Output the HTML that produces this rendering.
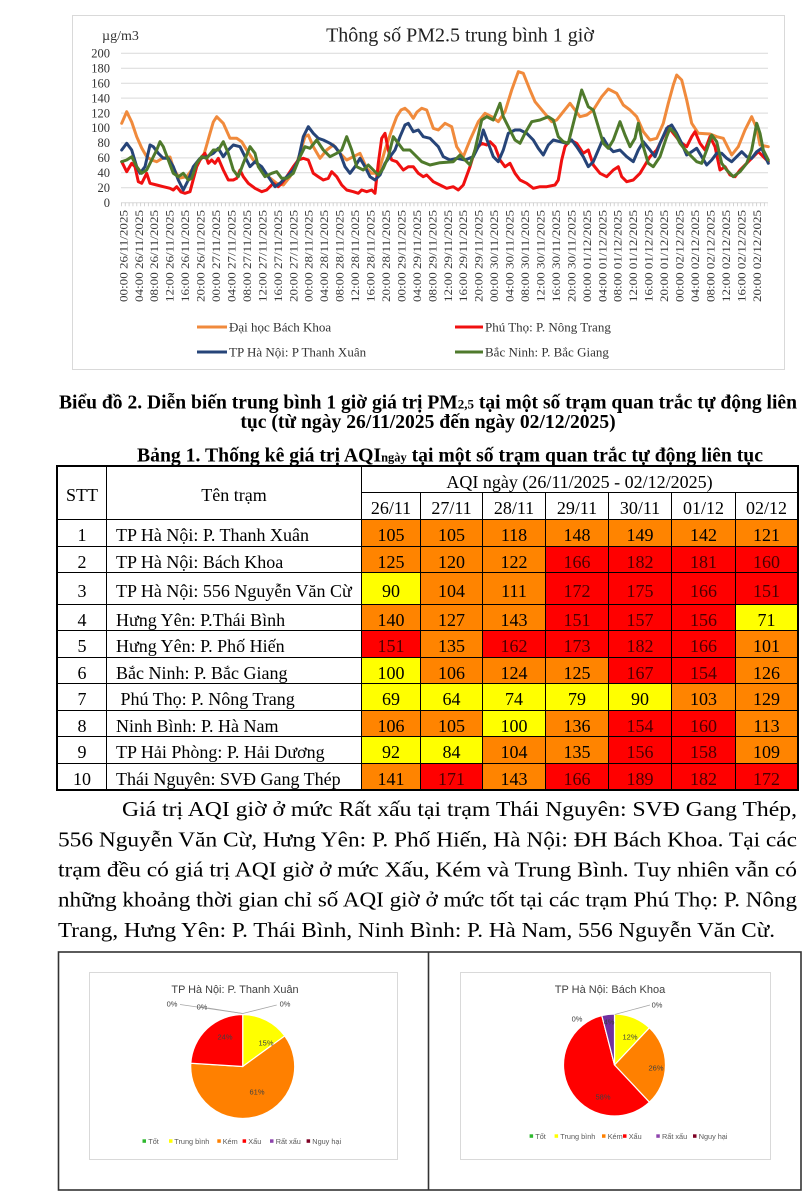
<!DOCTYPE html>
<html><head><meta charset="utf-8">
<style>
html,body{margin:0;padding:0;background:#fff;}
body{width:810px;height:1200px;position:relative;overflow:hidden;font-family:"Liberation Serif","Noto Serif CJK SC",serif;}
svg{position:absolute;left:0;top:0;}
.tbl{position:absolute;left:56px;top:465px;border:1px solid #000;padding:1px;background:#000;display:grid;gap:1px;
grid-template-columns:48px 254px 58px 61px 62px 62px 62px 63px 61px;
grid-template-rows:25px 26px 26px 25px 31px 25px 26px 25px 26px 25px 26px 25px;}
.tbl div{background:#fff;display:flex;align-items:center;justify-content:center;font-size:18px;color:#000;padding-top:5px;box-sizing:border-box;white-space:nowrap;}
.tbl div.n{justify-content:flex-start;padding-left:9px;}
.tbl div.O{background:#ff8400;}
.tbl div.R{background:#ff0000;color:#4a0000;}
.tbl div.Y{background:#ffff00;}
</style></head><body>
<svg width="810" height="1200" viewBox="0 0 810 1200" xmlns="http://www.w3.org/2000/svg" font-family="Liberation Serif, serif">
<!-- line chart frame -->
<rect x="72.5" y="15.5" width="712" height="354" fill="#fff" stroke="#d9d9d9" stroke-width="1"/>
<text x="460" y="41.5" text-anchor="middle" font-size="20" fill="#222">Thông số PM2.5 trung bình 1 giờ</text>
<text x="102" y="40" font-size="14" fill="#333">µg/m3</text>
<g stroke="#d9d9d9" stroke-width="1">
<line x1="121" x2="768" y1="53.3" y2="53.3"/><line x1="121" x2="768" y1="68.2" y2="68.2"/><line x1="121" x2="768" y1="83.2" y2="83.2"/><line x1="121" x2="768" y1="98.1" y2="98.1"/><line x1="121" x2="768" y1="113.1" y2="113.1"/><line x1="121" x2="768" y1="128" y2="128"/><line x1="121" x2="768" y1="142.9" y2="142.9"/><line x1="121" x2="768" y1="157.9" y2="157.9"/><line x1="121" x2="768" y1="172.8" y2="172.8"/><line x1="121" x2="768" y1="187.8" y2="187.8"/><line x1="121" x2="768" y1="202.7" y2="202.7"/>
</g>
<line x1="121" x2="768" y1="204.5" y2="204.5" stroke="#c8c8c8" stroke-width="3.5" stroke-dasharray="0.8 3.05"/>
<g font-size="12.5" fill="#333" text-anchor="end">
<text x="110" y="57.5">200</text><text x="110" y="72.4">180</text><text x="110" y="87.4">160</text><text x="110" y="102.3">140</text><text x="110" y="117.3">120</text><text x="110" y="132.2">100</text><text x="110" y="147.1">80</text><text x="110" y="162.1">60</text><text x="110" y="177">40</text><text x="110" y="192">20</text><text x="110" y="206.9">0</text>
</g>
<g fill="none" stroke-width="3" stroke-linejoin="round" stroke-linecap="round">
<polyline stroke="#f08a3c" points="121.7,123.3 126.7,111.7 131.7,122 136.7,136.7 141.7,148 146.7,156.7 151.7,160 156.7,161.7 163,158 170,157 173,166.7 176.7,174 180,178 186.7,176.7 191.7,170 196.7,163.3 203.3,156.7 206.7,145 210,133.3 213.3,122 216.7,116.7 223.3,123.3 230,138.3 236.7,138.3 241.7,141.7 246.7,150 253.3,160 260,166.7 268.3,176.7 276.7,183.3 283.3,185 290,176.7 296.7,163.3 301,150 305,136.7 308.3,135 313.3,146.7 320,158.3 326.7,150 333.3,145 340,153.3 346.7,160 353.3,156.7 360,153.3 366.7,168.3 371.7,173.3 378.3,173.3 385,150 391.7,130 396.7,116.7 401,110 405,108.3 409,112 413.3,118.3 417,112 421.7,108.3 426.7,110 433.3,128.3 438.3,130 445,123.3 451.7,126.7 456.7,146.7 463.3,156.7 470,140 478.3,121.7 485,113.3 491.7,116.7 498.3,121.7 505,111.7 511.7,90 518.3,71.7 523.3,73.3 530,90 535,101.7 543.3,111.7 551.7,121.7 556.7,120 563.3,111.7 570,103.3 575,110 580,116.7 586.7,115 593.3,110 601.7,96.7 608.3,89 616.7,93.3 623.3,105 630,110 636.7,116.7 643.3,131.7 650,140 656.7,138.3 663.3,123.3 668.3,103.3 673.3,85 676.7,75 681.7,80 686.7,100 691.7,123.3 698.3,133.3 710,134 716.7,136.7 723.3,138.3 731.7,155 738.3,146.7 745,130 751.7,116.7 756.7,128.3 760,145 768.3,146.7"/>
<polyline stroke="#f01010" points="121.7,161.7 126.7,171.7 131.7,163.3 135,166.7 138.3,181.7 141.7,183.3 146.7,173.3 150,183.3 156.7,185 163.3,186.7 170,188.3 173.3,190 176.7,186.7 181,192 185,193.3 190,191.7 196.7,166.7 201.7,156.7 205,153.3 208.3,163.3 211.7,160 215,163.3 218.3,158.3 223.3,170 228.3,180 233.3,180 236.7,178.3 240,170 243.3,176.7 248.3,183.3 255,188.3 261.7,191.7 266.7,190 273.3,183.3 278.3,186.7 281.7,183.3 286.7,176.7 293.3,166.7 298.3,160 303.3,158.3 308.3,160 313.3,173.3 318.3,176.7 323.3,180 328.3,178.3 331.7,171.7 336.7,176.7 341.7,185 346.7,190 353.3,191.7 358.3,193.3 361.7,190 366.7,191.7 371.7,190 375,193.3 378.3,163.3 381.7,138.3 385,133.3 388.3,150 391.7,160 396.7,161.7 403.3,170 408.3,166.7 413.3,166.7 418.3,173.3 423.3,176.7 426.7,175 433.3,181.7 440,185 446.7,188.3 453.3,186.7 458.3,190 463.3,185 470,166.7 475,150 481.7,143.3 486.7,145 490,141.7 495,146.7 500,160 505,166.7 510,163.3 515,173.3 520,180 526.7,183.3 533.3,188.3 540,186.7 546.7,186.7 555,185 558.3,180 561.7,160 565,146.7 570,140 576.7,143.3 583.3,153.3 588.3,150 593.3,165 600,173.3 606.7,176.7 613.3,170 618.3,166.7 621.7,176.7 626.7,181.7 633.3,180 640,173.3 645,165 650,156.7 656.7,150 663.3,136.7 668.3,126.7 673.3,133.3 680,141.7 686.7,146.7 691.7,136.7 695,131.7 700,143.3 705,150 710,136.7 715,146.7 720,170 725,166.7 730,175 735,176.7 740,170 746.7,163.3 753.3,156.7 758.3,151.7 763.3,156.7 768.3,161.7"/>
<polyline stroke="#264478" points="121.7,150 126.7,143.3 131.7,150 136.7,166.7 140,173.3 145,166.7 150,145 153.3,146.7 158.3,153.3 163.3,158.3 168.3,158.3 173.3,166.7 178.3,180 183.3,190 188.3,180 193.3,166.7 200,158.3 206.7,156.7 213.3,153.3 218.3,148.3 223.3,156.7 228.3,150 233.3,145 240,146.7 245,156.7 250,166.7 255,161.7 261.7,166.7 268.3,176.7 275,186.7 280,183.3 286.7,176.7 293.3,170 298.3,160 303.3,136.7 308.3,126.7 313.3,133.3 318.3,138.3 323.3,140 330,143.3 335,146.7 340,153.3 345,166.7 350,173.3 355,166.7 360,158.3 365,166.7 370,176.7 375,180 380,175 385,163.3 390,156.7 395,150 400,136.7 405,125 408.3,123.3 413.3,131.7 418.3,130 423.3,136.7 430,138.3 438.3,146.7 443.3,156.7 450,160 456.7,158.3 465,160 473.3,156.7 480,143.3 483.3,130 488.3,143.3 493.3,156.7 498.3,161.7 503.3,150 508.3,133.3 515,130 520,130 526.7,133.3 533.3,140 538.3,148.3 543.3,155 548.3,145 553.3,140 560,141.7 566.7,143.3 571.7,140 576.7,146.7 583.3,156.7 588.3,166.7 593.3,161.7 598.3,150 603.3,138.3 608.3,146.7 613.3,151.7 620,150 626.7,156.7 633.3,161.7 638.3,150 643.3,141.7 650,150 655,156.7 660,143.3 666.7,128.3 671.7,125 676.7,133.3 681.7,143.3 686.7,155 691.7,151.7 696.7,148.3 701.7,156.7 706.7,165 711.7,160 716.7,153.3 721.7,153.3 726.7,158.3 731.7,161.7 736.7,156.7 741.7,151.7 746.7,156.7 751.7,158.3 756.7,151.7 761.7,148.3 768.3,163.3"/>
<polyline stroke="#4f7a2c" points="121.7,161.7 126.7,160 131.7,156.7 136.7,166.7 141.7,173.3 146.7,170 151.7,160 156.7,150 160,141.7 163.3,146.7 168.3,160 173.3,173.3 178.3,176.7 183.3,173.3 188.3,180 191.7,178.3 196.7,163.3 201.7,156.7 206.7,158.3 213.3,150 218.3,150 223.3,141.7 228.3,153.3 233.3,170 238.3,176.7 243.3,163.3 250,146.7 255,153.3 258.3,166.7 265,176.7 271.7,173.3 276.7,171.7 281.7,178.3 286.7,178.3 293.3,173.3 300,156.7 305,146.7 310,148.3 316.7,140 323.3,150 330,156.7 336.7,153.3 341.7,150 346.7,136.7 351.7,150 356.7,166.7 363.3,170 368.3,165 373.3,170 378.3,175 383.3,168.3 388.3,156.7 393.3,136.7 398.3,143.3 403.3,150 410,150 415,155 421.7,161.7 430,165 440,162.7 453.3,161.7 460,155 465,160 470,165 475,150 481.7,120 486.7,116.7 493.3,120 500,103.3 503.3,116.7 508.3,126.7 515,140 520,143.3 525,133.3 531.7,121.7 540,120 548.3,116.7 553.3,120 558.3,136.7 563.3,141.7 568.3,143.3 575,116.7 581.7,90 588.3,106.7 593.3,110 598.3,126.7 603.3,143.3 608.3,148.3 613.3,140 620,121.7 625,135 630,146.7 635,138.3 638.3,123.3 643.3,146.7 648.3,163.3 653.3,166.7 660,156.7 666.7,136.7 670,128.3 675,133.3 680,143.3 686.7,151.7 691.7,156.7 696.7,161.7 701.7,163.3 706.7,150 711.7,135 716.7,141.7 721.7,163.3 726.7,170 733.3,176.7 740,171.7 746.7,163.3 751.7,150 756.7,123.3 760,133.3 763.3,150 768.3,160"/>
</g>
<g font-size="12" fill="#333" text-anchor="end">
<text transform="translate(127.3,210) rotate(-90)" textLength="92" lengthAdjust="spacingAndGlyphs">00:00 26/11/2025</text>
<text transform="translate(142.75,210) rotate(-90)" textLength="92" lengthAdjust="spacingAndGlyphs">04:00 26/11/2025</text>
<text transform="translate(158.2,210) rotate(-90)" textLength="92" lengthAdjust="spacingAndGlyphs">08:00 26/11/2025</text>
<text transform="translate(173.65,210) rotate(-90)" textLength="92" lengthAdjust="spacingAndGlyphs">12:00 26/11/2025</text>
<text transform="translate(189.1,210) rotate(-90)" textLength="92" lengthAdjust="spacingAndGlyphs">16:00 26/11/2025</text>
<text transform="translate(204.55,210) rotate(-90)" textLength="92" lengthAdjust="spacingAndGlyphs">20:00 26/11/2025</text>
<text transform="translate(220,210) rotate(-90)" textLength="92" lengthAdjust="spacingAndGlyphs">00:00 27/11/2025</text>
<text transform="translate(235.45,210) rotate(-90)" textLength="92" lengthAdjust="spacingAndGlyphs">04:00 27/11/2025</text>
<text transform="translate(250.9,210) rotate(-90)" textLength="92" lengthAdjust="spacingAndGlyphs">08:00 27/11/2025</text>
<text transform="translate(266.35,210) rotate(-90)" textLength="92" lengthAdjust="spacingAndGlyphs">12:00 27/11/2025</text>
<text transform="translate(281.8,210) rotate(-90)" textLength="92" lengthAdjust="spacingAndGlyphs">16:00 27/11/2025</text>
<text transform="translate(297.25,210) rotate(-90)" textLength="92" lengthAdjust="spacingAndGlyphs">20:00 27/11/2025</text>
<text transform="translate(312.7,210) rotate(-90)" textLength="92" lengthAdjust="spacingAndGlyphs">00:00 28/11/2025</text>
<text transform="translate(328.15,210) rotate(-90)" textLength="92" lengthAdjust="spacingAndGlyphs">04:00 28/11/2025</text>
<text transform="translate(343.6,210) rotate(-90)" textLength="92" lengthAdjust="spacingAndGlyphs">08:00 28/11/2025</text>
<text transform="translate(359.05,210) rotate(-90)" textLength="92" lengthAdjust="spacingAndGlyphs">12:00 28/11/2025</text>
<text transform="translate(374.5,210) rotate(-90)" textLength="92" lengthAdjust="spacingAndGlyphs">16:00 28/11/2025</text>
<text transform="translate(389.95,210) rotate(-90)" textLength="92" lengthAdjust="spacingAndGlyphs">20:00 28/11/2025</text>
<text transform="translate(405.4,210) rotate(-90)" textLength="92" lengthAdjust="spacingAndGlyphs">00:00 29/11/2025</text>
<text transform="translate(420.85,210) rotate(-90)" textLength="92" lengthAdjust="spacingAndGlyphs">04:00 29/11/2025</text>
<text transform="translate(436.3,210) rotate(-90)" textLength="92" lengthAdjust="spacingAndGlyphs">08:00 29/11/2025</text>
<text transform="translate(451.75,210) rotate(-90)" textLength="92" lengthAdjust="spacingAndGlyphs">12:00 29/11/2025</text>
<text transform="translate(467.2,210) rotate(-90)" textLength="92" lengthAdjust="spacingAndGlyphs">16:00 29/11/2025</text>
<text transform="translate(482.65,210) rotate(-90)" textLength="92" lengthAdjust="spacingAndGlyphs">20:00 29/11/2025</text>
<text transform="translate(498.1,210) rotate(-90)" textLength="92" lengthAdjust="spacingAndGlyphs">00:00 30/11/2025</text>
<text transform="translate(513.55,210) rotate(-90)" textLength="92" lengthAdjust="spacingAndGlyphs">04:00 30/11/2025</text>
<text transform="translate(529,210) rotate(-90)" textLength="92" lengthAdjust="spacingAndGlyphs">08:00 30/11/2025</text>
<text transform="translate(544.45,210) rotate(-90)" textLength="92" lengthAdjust="spacingAndGlyphs">12:00 30/11/2025</text>
<text transform="translate(559.9,210) rotate(-90)" textLength="92" lengthAdjust="spacingAndGlyphs">16:00 30/11/2025</text>
<text transform="translate(575.35,210) rotate(-90)" textLength="92" lengthAdjust="spacingAndGlyphs">20:00 30/11/2025</text>
<text transform="translate(590.8,210) rotate(-90)" textLength="92" lengthAdjust="spacingAndGlyphs">00:00 01/12/2025</text>
<text transform="translate(606.25,210) rotate(-90)" textLength="92" lengthAdjust="spacingAndGlyphs">04:00 01/12/2025</text>
<text transform="translate(621.7,210) rotate(-90)" textLength="92" lengthAdjust="spacingAndGlyphs">08:00 01/12/2025</text>
<text transform="translate(637.15,210) rotate(-90)" textLength="92" lengthAdjust="spacingAndGlyphs">12:00 01/12/2025</text>
<text transform="translate(652.6,210) rotate(-90)" textLength="92" lengthAdjust="spacingAndGlyphs">16:00 01/12/2025</text>
<text transform="translate(668.05,210) rotate(-90)" textLength="92" lengthAdjust="spacingAndGlyphs">20:00 01/12/2025</text>
<text transform="translate(683.5,210) rotate(-90)" textLength="92" lengthAdjust="spacingAndGlyphs">00:00 02/12/2025</text>
<text transform="translate(698.95,210) rotate(-90)" textLength="92" lengthAdjust="spacingAndGlyphs">04:00 02/12/2025</text>
<text transform="translate(714.4,210) rotate(-90)" textLength="92" lengthAdjust="spacingAndGlyphs">08:00 02/12/2025</text>
<text transform="translate(729.85,210) rotate(-90)" textLength="92" lengthAdjust="spacingAndGlyphs">12:00 02/12/2025</text>
<text transform="translate(745.3,210) rotate(-90)" textLength="92" lengthAdjust="spacingAndGlyphs">16:00 02/12/2025</text>
<text transform="translate(760.75,210) rotate(-90)" textLength="92" lengthAdjust="spacingAndGlyphs">20:00 02/12/2025</text>
</g>
<!-- legend -->
<g stroke-width="3">
<line x1="197" x2="227" y1="327" y2="327" stroke="#f08a3c"/>
<line x1="455" x2="483" y1="327" y2="327" stroke="#f01010"/>
<line x1="197" x2="227" y1="352" y2="352" stroke="#264478"/>
<line x1="455" x2="483" y1="352" y2="352" stroke="#4f7a2c"/>
</g>
<g font-size="13" fill="#333">
<text x="229" y="331.5">Đại học Bách Khoa</text>
<text x="485" y="331.5">Phú Thọ: P. Nông Trang</text>
<text x="229" y="356.5">TP Hà Nội: P Thanh Xuân</text>
<text x="485" y="356.5">Bắc Ninh: P. Bắc Giang</text>
</g>
<!-- captions -->
<g font-weight="bold" fill="#000">
<text x="59" y="408.5" font-size="19.6" textLength="738" lengthAdjust="spacingAndGlyphs">Biểu đồ 2. Diễn biến trung bình 1 giờ giá trị PM<tspan font-size="13">2,5</tspan> tại một số trạm quan trắc tự động liên</text>
<text x="428" y="428" font-size="19.6" text-anchor="middle">tục (từ ngày 26/11/2025 đến ngày 02/12/2025)</text>
<text x="137" y="461.5" font-size="19.8" textLength="626" lengthAdjust="spacingAndGlyphs">Bảng 1. Thống kê giá trị AQI<tspan font-size="12.5">ngày</tspan> tại một số trạm quan trắc tự động liên tục</text>
</g>
<!-- paragraph -->
<g font-size="21.5" fill="#000">
<text x="122" y="816" textLength="675" lengthAdjust="spacingAndGlyphs">Giá trị AQI giờ ở mức Rất xấu tại trạm Thái Nguyên: SVĐ Gang Thép,</text>
<text x="58" y="846.3" textLength="739" lengthAdjust="spacingAndGlyphs">556 Nguyễn Văn Cừ, Hưng Yên: P. Phố Hiến, Hà Nội: ĐH Bách Khoa. Tại các</text>
<text x="58" y="876.5" textLength="739" lengthAdjust="spacingAndGlyphs">trạm đều có giá trị AQI giờ ở mức Xấu, Kém và Trung Bình. Tuy nhiên vẫn có</text>
<text x="58" y="906.7" textLength="739" lengthAdjust="spacingAndGlyphs">những khoảng thời gian chỉ số AQI giờ ở mức tốt tại các trạm Phú Thọ: P. Nông</text>
<text x="58" y="937" textLength="717" lengthAdjust="spacingAndGlyphs">Trang, Hưng Yên: P. Thái Bình, Ninh Bình: P. Hà Nam, 556 Nguyễn Văn Cừ.</text>
</g>
<!-- pie section -->
<rect x="58.5" y="952" width="742.5" height="238" fill="none" stroke="#333" stroke-width="1.6"/>
<line x1="428.5" x2="428.5" y1="952" y2="1190" stroke="#333" stroke-width="1.6"/>
<rect x="89.5" y="972.5" width="308" height="187" fill="#fff" stroke="#d9d9d9"/>
<rect x="460.5" y="972.5" width="310" height="187" fill="#fff" stroke="#d9d9d9"/>
<g font-family="Liberation Sans, sans-serif">
<text x="235" y="992.8" text-anchor="middle" font-size="10.9" fill="#404040">TP Hà Nội: P. Thanh Xuân</text>
<text x="610" y="992.8" text-anchor="middle" font-size="11" fill="#404040">TP Hà Nội: Bách Khoa</text>
<g stroke="#fff" stroke-width="1.2">
<path d="M242.7,1066.5 L242.7,1014.5 A52,52 0 0 1 284.77,1035.93 Z" fill="#ffff00"/>
<path d="M242.7,1066.5 L284.77,1035.93 A52,52 0 1 1 190.8,1063.23 Z" fill="#ff8000"/>
<path d="M242.7,1066.5 L190.8,1063.23 A52,52 0 0 1 242.7,1014.5 Z" fill="#ff0000"/>
<path d="M614.5,1065 L614.5,1014 A51,51 0 0 1 649.4,1027.82 Z" fill="#ffff00"/>
<path d="M614.5,1065 L649.4,1027.82 A51,51 0 0 1 649.4,1102.18 Z" fill="#ff8000"/>
<path d="M614.5,1065 L649.4,1102.18 A51,51 0 1 1 601.82,1015.6 Z" fill="#ff0000"/>
<path d="M614.5,1065 L601.82,1015.6 A51,51 0 0 1 614.5,1014 Z" fill="#7030a0"/>
</g>
<g stroke="#a6a6a6" stroke-width="0.8">
<line x1="242.7" y1="1013.5" x2="180" y2="1004.5"/>
<line x1="242.7" y1="1013.5" x2="208" y2="1008"/>
<line x1="242.7" y1="1013.5" x2="276.7" y2="1005"/>
<line x1="614.7" y1="1014.5" x2="650" y2="1005"/>
</g>
<g font-size="7.5" fill="#404040" text-anchor="middle">
<text x="266" y="1045.5">15%</text><text x="257" y="1094.5">61%</text><text x="225" y="1039.5">24%</text>
<text x="172" y="1006.5">0%</text><text x="202" y="1009.5">0%</text><text x="285" y="1006.5">0%</text>
<text x="630" y="1039.5">12%</text><text x="656" y="1070.5">26%</text><text x="603" y="1099.5">58%</text>
<text x="609" y="1024.5">4%</text><text x="577" y="1021.5">0%</text><text x="657" y="1007.5">0%</text>
</g>
<g font-size="7.3" fill="#595959">
<rect x="142.5" y="1139.3" width="3.5" height="3.5" fill="#2eb82e"/><text x="148.3" y="1143.8">Tốt</text>
<rect x="169" y="1139.3" width="3.5" height="3.5" fill="#ffff00"/><text x="174.3" y="1143.8">Trung bình</text>
<rect x="217.3" y="1139.3" width="3.5" height="3.5" fill="#ff8000"/><text x="222.7" y="1143.8">Kém</text>
<rect x="242.6" y="1139.3" width="3.5" height="3.5" fill="#ff0000"/><text x="248.3" y="1143.8">Xấu</text>
<rect x="270" y="1139.3" width="3.5" height="3.5" fill="#8e44ad"/><text x="275.7" y="1143.8">Rất xấu</text>
<rect x="306.6" y="1139.3" width="3.5" height="3.5" fill="#7e0023"/><text x="312.3" y="1143.8">Nguy hại</text>
<rect x="529.6" y="1134.3" width="3.5" height="3.5" fill="#2eb82e"/><text x="535.3" y="1138.8">Tốt</text>
<rect x="554.6" y="1134.3" width="3.5" height="3.5" fill="#ffff00"/><text x="560.3" y="1138.8">Trung bình</text>
<rect x="602" y="1134.3" width="3.5" height="3.5" fill="#ff8000"/><text x="607.7" y="1138.8">Kém</text>
<rect x="623" y="1134.3" width="3.5" height="3.5" fill="#ff0000"/><text x="628.7" y="1138.8">Xấu</text>
<rect x="656.3" y="1134.3" width="3.5" height="3.5" fill="#8e44ad"/><text x="662" y="1138.8">Rất xấu</text>
<rect x="693" y="1134.3" width="3.5" height="3.5" fill="#7e0023"/><text x="698.7" y="1138.8">Nguy hại</text>
</g>
</g>
</svg>

<div class="tbl">
<div style="grid-row:span 2;">STT</div>
<div style="grid-row:span 2;">Tên trạm</div>
<div style="grid-column:span 7;">AQI ngày (26/11/2025 - 02/12/2025)</div>
<div>26/11</div><div>27/11</div><div>28/11</div><div>29/11</div><div>30/11</div><div>01/12</div><div>02/12</div>

<div>1</div><div class="n">TP Hà Nội: P. Thanh Xuân</div><div class="O">105</div><div class="O">105</div><div class="O">118</div><div class="O">148</div><div class="O">149</div><div class="O">142</div><div class="O">121</div>
<div>2</div><div class="n">TP Hà Nội: Bách Khoa</div><div class="O">125</div><div class="O">120</div><div class="O">122</div><div class="R">166</div><div class="R">182</div><div class="R">181</div><div class="R">160</div>
<div>3</div><div class="n">TP Hà Nội: 556 Nguyễn Văn Cừ</div><div class="Y">90</div><div class="O">104</div><div class="O">111</div><div class="R">172</div><div class="R">175</div><div class="R">166</div><div class="R">151</div>
<div>4</div><div class="n">Hưng Yên: P.Thái Bình</div><div class="O">140</div><div class="O">127</div><div class="O">143</div><div class="R">151</div><div class="R">157</div><div class="R">156</div><div class="Y">71</div>
<div>5</div><div class="n">Hưng Yên: P. Phố Hiến</div><div class="R">151</div><div class="O">135</div><div class="R">162</div><div class="R">173</div><div class="R">182</div><div class="R">166</div><div class="O">101</div>
<div>6</div><div class="n">Bắc Ninh: P. Bắc Giang</div><div class="Y">100</div><div class="O">106</div><div class="O">124</div><div class="O">125</div><div class="R">167</div><div class="R">154</div><div class="O">126</div>
<div>7</div><div class="n">&nbsp;Phú Thọ: P. Nông Trang</div><div class="Y">69</div><div class="Y">64</div><div class="Y">74</div><div class="Y">79</div><div class="Y">90</div><div class="O">103</div><div class="O">129</div>
<div>8</div><div class="n">Ninh Bình: P. Hà Nam</div><div class="O">106</div><div class="O">105</div><div class="Y">100</div><div class="O">136</div><div class="R">154</div><div class="R">160</div><div class="O">113</div>
<div>9</div><div class="n">TP Hải Phòng: P. Hải Dương</div><div class="Y">92</div><div class="Y">84</div><div class="O">104</div><div class="O">135</div><div class="R">156</div><div class="R">158</div><div class="O">109</div>
<div>10</div><div class="n">Thái Nguyên: SVĐ Gang Thép</div><div class="O">141</div><div class="R">171</div><div class="O">143</div><div class="R">166</div><div class="R">189</div><div class="R">182</div><div class="R">172</div>
</div>
</body></html>
